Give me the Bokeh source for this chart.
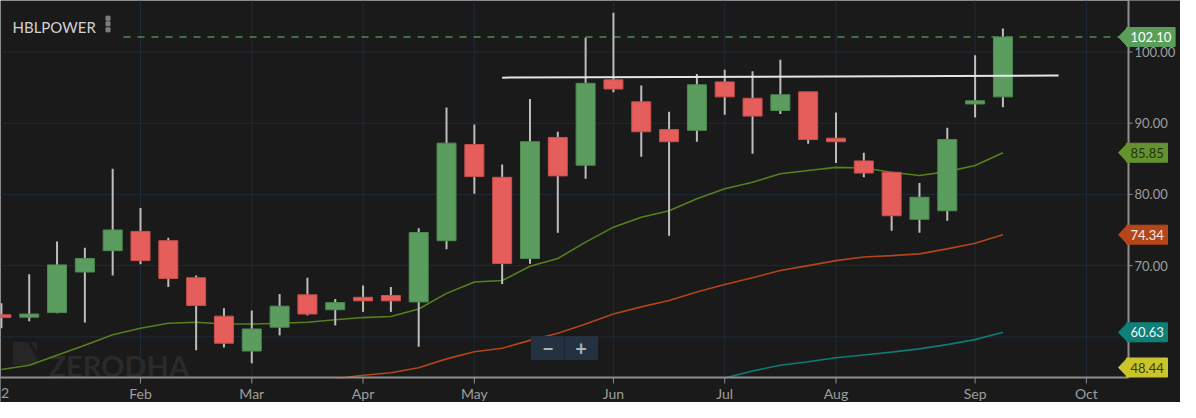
from bokeh.plotting import figure
from bokeh.models import Range1d
from bokeh.core.properties import value
from bokeh.embed import file_html
from bokeh.resources import INLINE

# ---------------- data (weekly candles, index 0 = first visible week) ----------------
SYMBOL = "HBLPOWER"
OPEN  = [63.1, 62.75, 63.4, 69.1, 72.1, 74.8, 73.5, 68.3, 62.9, 58.0, 61.35, 65.9, 63.8, 65.55, 65.8,
         64.9, 73.5, 87.0, 82.4, 71.0, 88.0, 84.1, 96.1, 93.0, 89.1, 89.0, 95.8, 93.5, 91.8, 94.4,
         87.9, 84.7, 83.1, 76.5, 77.7, 92.7, 93.7]
HIGH  = [64.7, 68.8, 73.4, 72.5, 83.6, 78.1, 73.9, 68.6, 64.0, 63.7, 66.0, 68.3, 65.3, 67.2, 67.0,
         75.25, 92.2, 89.8, 84.2, 93.4, 88.8, 102.0, 105.5, 95.3, 91.6, 96.9, 97.5, 97.3, 98.9, 94.4,
         91.5, 85.85, 83.1, 81.6, 89.35, 99.55, 103.3]
LOW   = [61.2, 62.2, 63.3, 62.0, 68.6, 70.2, 67.0, 58.1, 58.5, 56.3, 60.2, 63.0, 61.6, 63.5, 63.5,
         58.6, 72.3, 80.1, 67.4, 70.25, 74.6, 82.2, 94.35, 85.3, 74.2, 87.4, 91.2, 85.7, 91.3, 87.1,
         84.4, 82.4, 74.9, 74.6, 76.3, 90.8, 92.25]
CLOSE = [62.7, 63.2, 70.1, 71.0, 75.0, 70.7, 68.2, 64.4, 59.1, 61.1, 64.3, 63.2, 64.8, 65.05, 65.05,
         74.65, 87.2, 82.5, 70.3, 87.4, 82.6, 95.6, 94.8, 88.8, 87.4, 95.4, 93.7, 91.0, 94.0, 87.7,
         87.4, 83.0, 77.0, 79.6, 87.7, 93.15, 102.1]

SMA20 = [55.4, 56.0, 57.4, 58.8, 60.3, 61.2, 61.9, 62.05, 61.8, 61.8, 61.9, 62.05, 62.4, 62.7, 62.85,
         63.9, 66.1, 67.7, 67.9, 69.9, 71.0, 73.3, 75.4, 76.8, 77.7, 79.4, 80.8, 81.7, 82.9, 83.35,
         83.8, 83.7, 83.1, 82.65, 83.2, 84.05, 85.85]
SMA50_START = 12
SMA50 = [54.1, 54.6, 54.95, 55.65, 56.9, 57.9, 58.4, 59.5, 60.5, 61.8, 63.2, 64.2, 65.1, 66.3,
         67.35, 68.3, 69.3, 70.0, 70.7, 71.2, 71.4, 71.65, 72.35, 73.15, 74.34]
SMA100_START = 26
SMA100 = [54.2, 55.2, 56.0, 56.5, 57.05, 57.45, 57.85, 58.3, 58.9, 59.6, 60.63]
SMA200_LAST = 48.44

LAST_PRICE = 102.10
TREND_X = [18.0, 38.0]
TREND_Y = [96.4, 96.7]

EDGE_LABEL = "2"   # visible remnant of the year label at the left edge
MONTH_IDX = [5, 9, 13, 17, 22, 26, 30, 35, 39]
MONTH_LABELS = ["Feb", "Mar", "Apr", "May", "Jun", "Jul", "Aug", "Sep", "Oct"]
Y_TICKS = [60, 70, 80, 90, 100]

# ---------------- layout helpers (screen pixel -> data) ----------------
PX_X = 27.82     # px per candle
X_ORIGIN = 0.9   # px of candle 0
PX_Y = 7.12      # px per price unit
Y_REF = 51.5     # px of price 100
AXIS_X_PX = 1128  # px of the price axis line
AXIS_Y_PX = 377   # px of the time axis line
W, H = 1180, 402


def px2x(px):
    return (px - X_ORIGIN) / PX_X


def px2y(py):
    return 100 - (py - Y_REF) / PX_Y


X_START, X_END = px2x(0), px2x(W)
Y_TOP, Y_BOTTOM = px2y(0), px2y(H)
X_AXIS = px2x(AXIS_X_PX)
Y_AXIS = px2y(AXIS_Y_PX)

BG = "#1a1a1a"
GREEN = "#5b9d5e"
RED = "#e55e5c"
GRID = "#1f2b38"
AXIS = "#8e8e8e"
LABEL = "#9e9e9e"
FONT = "Lato"

p = figure(width=W, height=H, output_backend="svg", toolbar_location=None,
           x_range=Range1d(X_START, X_END), y_range=Range1d(Y_BOTTOM, Y_TOP),
           x_axis_location=None, y_axis_location=None, min_border=0)
p.background_fill_color = BG
p.border_fill_color = BG
p.outline_line_color = None
p.grid.visible = False

# grid lines
p.segment(x0=MONTH_IDX, y0=[Y_AXIS] * len(MONTH_IDX), x1=MONTH_IDX, y1=[Y_TOP] * len(MONTH_IDX),
          line_color=GRID, line_width=1)
p.segment(x0=[X_START] * len(Y_TICKS), y0=Y_TICKS, x1=[X_AXIS] * len(Y_TICKS), y1=Y_TICKS,
          line_color=GRID, line_width=1)

# title and menu dots
p.text(x=[px2x(12)], y=[px2y(26)], text=[SYMBOL], text_font=value(FONT),
       text_font_size="15px", text_color="#d2d2d2", text_baseline="middle", text_align="left")
p.scatter(x=[px2x(107.5)] * 3, y=[px2y(17.7), px2y(23.3), px2y(29.3)], size=4,
          color="#7e7e7e", marker="square")

# watermark
p.patch(x=[px2x(13), px2x(27), px2x(36), px2x(36), px2x(13)],
        y=[px2y(342), px2y(342), px2y(358), px2y(364), px2y(364)], color="#262626")
p.patch(x=[px2x(31), px2x(36), px2x(36)],
        y=[px2y(342), px2y(342), px2y(350)], color="#262626")
p.text(x=[px2x(48)], y=[px2y(365)], text=["ZERODHA"], text_font=value(FONT),
       text_font_style="bold", text_font_size="29px", text_color="#2a2a2a",
       text_baseline="alphabetic", text_align="left")

# moving averages
idx = list(range(len(CLOSE)))
p.line(idx, SMA20, line_color="#55801f", line_width=1.6)
p.line(list(range(SMA50_START, SMA50_START + len(SMA50))), SMA50, line_color="#b3451a", line_width=1.6)
p.line(list(range(SMA100_START, SMA100_START + len(SMA100))), SMA100, line_color="#0f7b73", line_width=1.6)

# last-price dashed line
p.segment(x0=[px2x(123)], y0=[LAST_PRICE], x1=[X_AXIS], y1=[LAST_PRICE],
          line_color="#4c8a4c", line_dash="7 7", line_width=1.4)

# candles
up = [i for i in idx if CLOSE[i] >= OPEN[i]]
dn = [i for i in idx if CLOSE[i] < OPEN[i]]
p.segment(x0=idx, y0=HIGH, x1=idx, y1=LOW, line_color="#bdbdbd", line_width=2)
BW = 19 / PX_X
p.vbar(x=up, width=BW, bottom=[OPEN[i] for i in up], top=[CLOSE[i] for i in up],
       fill_color=GREEN, line_color="#4e8a51", line_width=1)
p.vbar(x=dn, width=BW, bottom=[CLOSE[i] for i in dn], top=[OPEN[i] for i in dn],
       fill_color=RED, line_color="#c94f4d", line_width=1)

# trend line
p.line(TREND_X, TREND_Y, line_color="#e6e6e6", line_width=2)

# zoom buttons
p.quad(left=[px2x(531)], right=[px2x(597)], top=[px2y(336)], bottom=[px2y(359)],
       fill_color="#233140", line_color="#233140")
p.segment(x0=[px2x(564)], y0=[px2y(336)], x1=[px2x(564)], y1=[px2y(359)],
          line_color="#1b2733", line_width=1)
p.text(x=[px2x(547.5), px2x(580.5)], y=[px2y(347.5), px2y(347.5)], text=["\u2212", "+"],
       text_font=value(FONT), text_font_style="bold", text_font_size="20px",
       text_color="#a9b3bc", text_align="center", text_baseline="middle")

# panels outside the plotting area (below the time axis, right of the price axis)
p.quad(left=[X_START], right=[X_END], bottom=[Y_BOTTOM], top=[px2y(AXIS_Y_PX + 1)],
       fill_color=BG, line_color=None)
p.quad(left=[px2x(AXIS_X_PX + 1)], right=[X_END], bottom=[Y_BOTTOM], top=[Y_TOP],
       fill_color=BG, line_color=None)

# time axis
p.segment(x0=[X_START], y0=[Y_AXIS], x1=[X_AXIS], y1=[Y_AXIS], line_color=AXIS, line_width=2)
p.segment(x0=MONTH_IDX, y0=[Y_AXIS] * len(MONTH_IDX), x1=MONTH_IDX,
          y1=[px2y(AXIS_Y_PX + 6)] * len(MONTH_IDX), line_color=AXIS, line_width=1)
p.text(x=MONTH_IDX, y=[px2y(392.5)] * len(MONTH_IDX), text=MONTH_LABELS, text_font=value(FONT),
       text_font_size="14px", text_color=LABEL, text_align="center", text_baseline="middle")
p.text(x=[px2x(0.5)], y=[px2y(392.5)], text=[EDGE_LABEL], text_font=value(FONT),
       text_font_size="14px", text_color=LABEL, text_align="left", text_baseline="middle")

# price axis
p.segment(x0=[X_AXIS], y0=[Y_AXIS], x1=[X_AXIS], y1=[Y_TOP], line_color=AXIS, line_width=2)
p.segment(x0=[X_AXIS] * len(Y_TICKS), y0=Y_TICKS, x1=[px2x(AXIS_X_PX + 4)] * len(Y_TICKS), y1=Y_TICKS,
          line_color=AXIS, line_width=1)
p.text(x=[px2x(AXIS_X_PX + 6)] * len(Y_TICKS), y=Y_TICKS, text=[f"{t:.2f}" for t in Y_TICKS],
       text_font=value(FONT), text_font_size="13px", text_color=LABEL,
       text_align="left", text_baseline="middle")

# price tags on the price axis
TAGS = [
    (LAST_PRICE, "#5a9e5c", "#ffffff"),
    (SMA20[-1], "#64922e", "#24330f"),
    (SMA50[-1], "#b4461a", "#f6ece6"),
    (SMA100[-1], "#0f7f78", "#f0f6f5"),
    (SMA200_LAST, "#cbc52c", "#3d3b0c"),
]
half = 9.5 / PX_Y
y_floor = Y_AXIS + 10 / PX_Y
for val, bg, fg in TAGS:
    txt = f"{val:.2f}"
    yc = max(val, y_floor)
    p.patch(x=[px2x(1118), px2x(1127), px2x(1127)], y=[yc, yc + half, yc - half],
            color=bg, line_color=bg)
    p.quad(left=[px2x(1126)], right=[px2x(1127 + 7.6 * len(txt) + 2)], top=[yc + half],
           bottom=[yc - half], fill_color=bg, line_color=bg)
    p.text(x=[px2x(1130)], y=[yc], text=[txt], text_font=value(FONT), text_font_size="13px",
           text_color=fg, text_align="left", text_baseline="middle")

open("out.html", "w").write(file_html(p, INLINE))
